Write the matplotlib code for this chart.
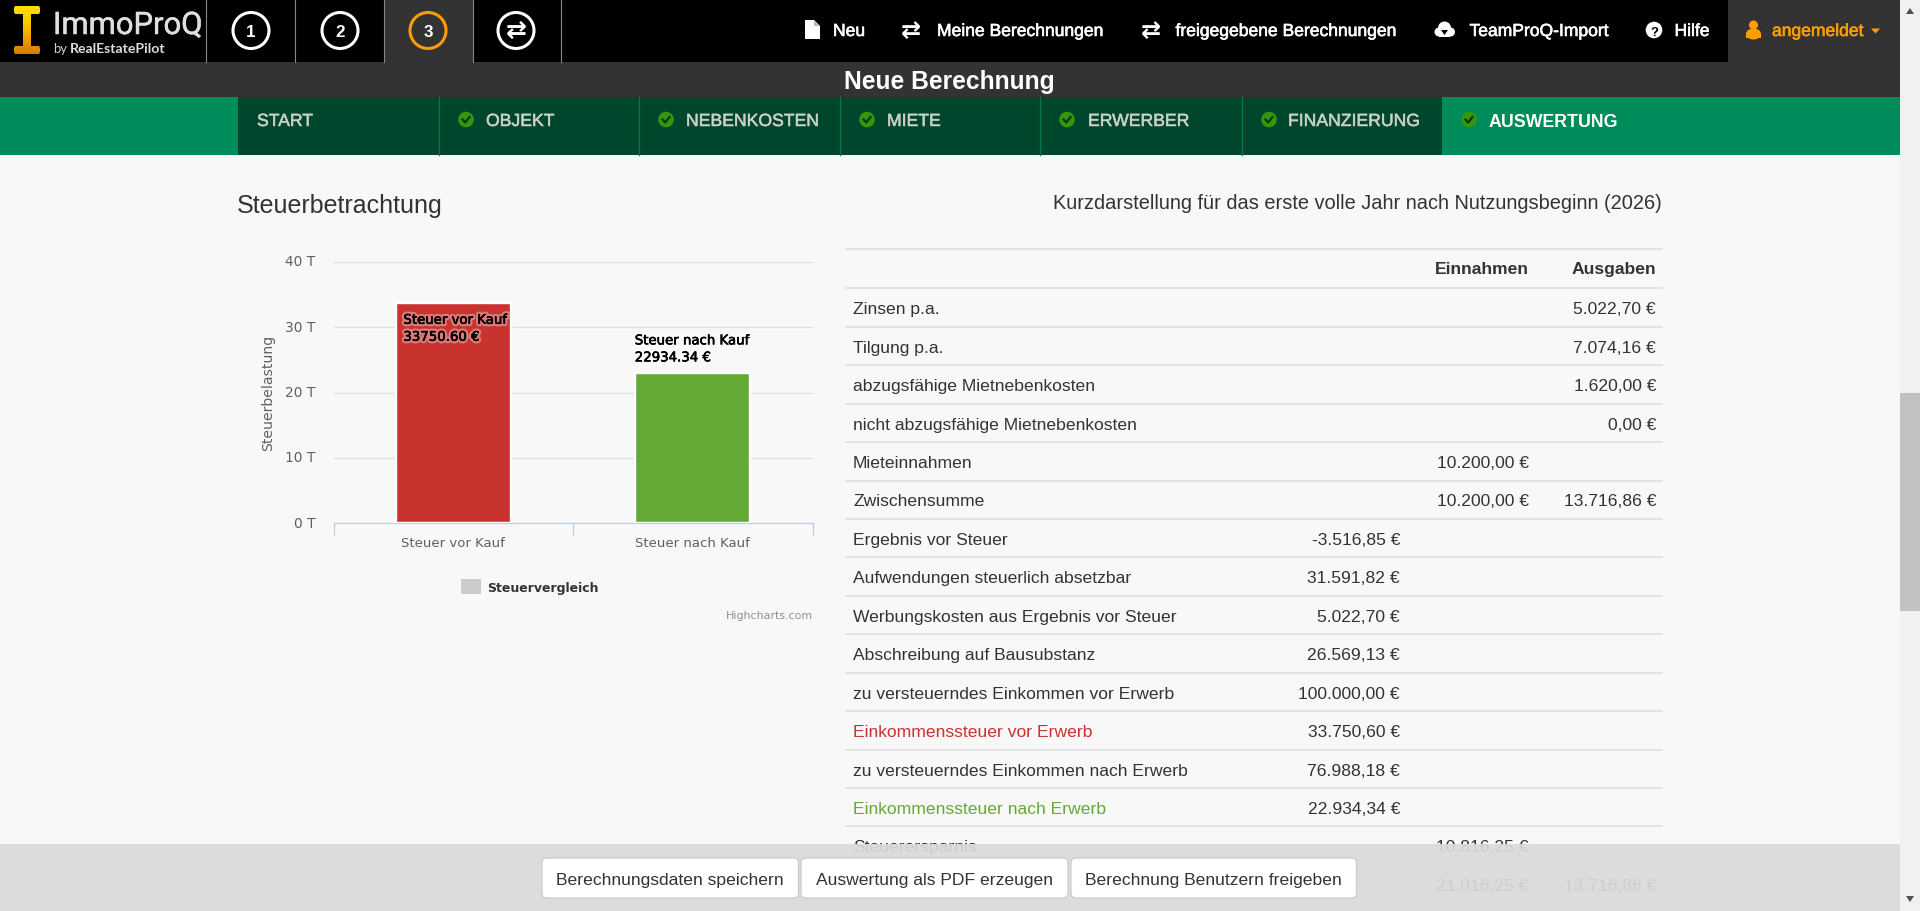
import matplotlib
matplotlib.use("Agg")
import matplotlib.pyplot as plt
import matplotlib.patheffects as pe
from matplotlib.patches import Rectangle, Circle, FancyBboxPatch, Polygon, Ellipse
from matplotlib.transforms import ScaledTranslation
import numpy as np
import logging

logging.getLogger("matplotlib.font_manager").setLevel(logging.ERROR)

# chart data
categories = ["Steuer vor Kauf", "Steuer nach Kauf"]
tax_values = [33750.60, 22934.34]
bar_colors = ["#c8322f", "#64a936"]
y_ticks = [0, 10000, 20000, 30000, 40000]
y_tick_labels = ["0 T", "10 T", "20 T", "30 T", "40 T"]

# table data
row_labels = ["Zinsen p.a.", "Tilgung p.a.", "abzugsfähige Mietnebenkosten",
              "nicht abzugsfähige Mietnebenkosten", "Mieteinnahmen", "Zwischensumme",
              "Ergebnis vor Steuer", "Aufwendungen steuerlich absetzbar",
              "Werbungskosten aus Ergebnis vor Steuer", "Abschreibung auf Bausubstanz",
              "zu versteuerndes Einkommen vor Erwerb", "Einkommenssteuer vor Erwerb",
              "zu versteuerndes Einkommen nach Erwerb", "Einkommenssteuer nach Erwerb",
              "Steuerersparnis", ""]
col_base = ["", "", "", "", "", "", "-3.516,85 €", "31.591,82 €", "5.022,70 €", "26.569,13 €",
            "100.000,00 €", "33.750,60 €", "76.988,18 €", "22.934,34 €", "", ""]
col_income = ["", "", "", "", "10.200,00 €", "10.200,00 €", "", "", "", "", "", "", "", "",
              "10.816,25 €", "21.016,25 €"]
col_expense = ["5.022,70 €", "7.074,16 €", "1.620,00 €", "0,00 €", "", "13.716,86 €", "", "", "",
               "", "", "", "", "", "", "13.716,86 €"]

# navigation
tabs = ["START", "OBJEKT", "NEBENKOSTEN", "MIETE", "ERWERBER", "FINANZIERUNG", "AUSWERTUNG"]
tab_text_x = [257, 486, 686, 887, 1088, 1288, 1489]
tab_check_x = [None, 466, 666, 867, 1067, 1269, 1469]
tab_lines = [438.5, 639, 840, 1040, 1241.5]
buttons = ["Berechnungsdaten speichern", "Auswertung als PDF erzeugen", "Berechnung Benutzern freigeben"]
button_x = [(542, 798.5), (801, 1068), (1071, 1356.5)]

FONT = "Liberation Sans"
px = 0.72

fig = plt.figure(figsize=(19.2, 9.12), dpi=100, facecolor="#f8f8f8")
bg = fig.add_axes([0, 0, 1, 1], zorder=0)
bg.set_xlim(0, 1920)
bg.set_ylim(912, 0)
bg.axis("off")


def txt(x, y, s, size, color="#333333", weight="normal", ha="left", family=FONT, z=3, heavy=0, **kw):
    t = bg.text(x, y, s, fontsize=size * px, color=color, fontweight=weight, ha=ha,
                va="baseline", family=family, zorder=z, **kw)
    if heavy:
        # the browser thickens these labels with a text shadow
        t.set_path_effects([pe.withStroke(linewidth=heavy * px, foreground=color)])
    return t


def rect(x0, y0, x1, y1, color, z=1, **kw):
    bg.add_patch(Rectangle((x0, y0), x1 - x0, y1 - y0, facecolor=color, edgecolor="none", zorder=z, **kw))


# header bars
rect(0, 0, 1900, 63, "#000000")
rect(384, 0, 473, 63, "#333333", z=2)
rect(1728, 0, 1900, 63, "#333333", z=2)
rect(0, 63, 1900, 98, "#333333")
rect(0, 98, 1900, 155.5, "#008c5a")
rect(238, 98, 1442, 155.5, "#00462d", z=2)
for x in [206, 295, 384, 473, 561]:
    bg.plot([x, x], [0, 63], color="#888888", lw=0.8, zorder=3)
for x in tab_lines:
    bg.plot([x, x], [98, 155.5], color="#007a4e", lw=0.9, zorder=3)

# logo
grad = np.linspace(0, 1, 64).reshape(-1, 1)
logo_cmap = matplotlib.colors.LinearSegmentedColormap.from_list("logo", ["#ffe000", "#ffc800", "#f0a000", "#d87c00"])
logo_im = bg.imshow(grad, extent=(14, 40, 55, 7), cmap=logo_cmap, aspect="auto", zorder=3)
logo_clip = Polygon([(15, 7), (39, 7), (40, 9), (40, 13), (39, 15), (31, 15), (31, 47), (39, 47), (40, 49),
                     (40, 53), (39, 55), (15, 55), (14, 53), (14, 49), (15, 47), (23, 47), (23, 15), (15, 15),
                     (14, 13), (14, 9)], transform=bg.transData, facecolor="none", edgecolor="none")
bg.add_patch(logo_clip)
logo_im.set_clip_path(logo_clip)
bg.set_xlim(0, 1920)
bg.set_ylim(912, 0)
txt(53, 35, "ImmoProQ", 31, color="#dfdfdf", family="Roboto", heavy=0.5)
txt(53, 53, "by", 13, color="#cccccc", family="Lato")
txt(70, 53, "RealEstatePilot", 14, color="#dddddd", weight="bold", family="Lato")

# step circles
for cx, s, col in [(251, "1", "white"), (340, "2", "white"), (428, "3", "#ff9d00"), (516, "⇄", "white")]:
    bg.add_patch(Circle((cx, 31.5), 18, facecolor="none", edgecolor=col, lw=2.2, zorder=3))
    if s == "⇄":
        bg.text(cx, 31, s, fontsize=25 * px, color="white", ha="center", va="center",
                family="DejaVu Sans", fontweight="bold", zorder=4)
    else:
        txt(cx, 37, s, 17, color="white", weight="bold", ha="center")

# top navigation
nav_items = [(833, "Neu"), (937, "Meine Berechnungen"), (1175.5, "freigegebene Berechnungen"),
             (1469.5, "TeamProQ-Import"), (1674.5, "Hilfe")]
for x, s in nav_items:
    txt(x, 37, s, 17.5, color="white", heavy=0.6)
txt(1772, 37, "angemeldet", 17.5, color="#ff9d00", heavy=0.6)
bg.add_patch(Polygon([(1871, 29.5), (1880, 29.5), (1875.5, 34.5)], facecolor="#ff9d00", zorder=3))

# nav icons
bg.add_patch(Polygon([(805, 21), (814, 21), (820, 27), (820, 40), (805, 40)], facecolor="white", zorder=3))
bg.add_patch(Polygon([(814, 21), (820, 27), (814, 27)], facecolor="#bbbbbb", zorder=4))
for x in [911, 1150.5]:
    bg.text(x, 31, "⇄", fontsize=24 * px, color="white", ha="center", va="center",
            family="DejaVu Sans", fontweight="bold", zorder=4)
for cx, cy, r in [(1444.5, 29, 6.5), (1439, 33, 4.5), (1450.5, 33, 4.5)]:
    bg.add_patch(Circle((cx, cy), r, facecolor="white", zorder=3))
rect(1439, 33, 1450, 37.5, "white", z=3)
bg.add_patch(Polygon([(1441, 31), (1448, 31), (1444.5, 36)], facecolor="#000000", zorder=4))
bg.add_patch(Circle((1654, 31), 8.3, facecolor="white", zorder=3))
txt(1654, 35.5, "?", 13, color="#000000", weight="bold", ha="center", z=4)
bg.add_patch(Circle((1753.5, 26), 4.5, facecolor="#ff9d00", zorder=3))
bg.add_patch(Ellipse((1753.5, 35), 15, 11, facecolor="#ff9d00", zorder=3))
rect(1746, 35, 1761, 39, "#ff9d00", z=3)

# page title
txt(949.5, 89, "Neue Berechnung", 24.6, color="white", weight="bold", ha="center")

# green tabs
for i, s in enumerate(tabs):
    if s == "AUSWERTUNG":
        txt(tab_text_x[i], 127, s, 17.7, color="white", weight="bold")
    else:
        txt(tab_text_x[i], 127, s, 17.6, color="#c9cfcb", heavy=0.5)
    if tab_check_x[i] is not None:
        cx = tab_check_x[i]
        bg.add_patch(Circle((cx, 120.5), 7.8, facecolor="#35980a", zorder=3))
        bg.plot([cx - 3.5, cx - 0.8, cx + 3.5], [120.5, 123.5, 118], color="#05371d", lw=1.6, zorder=4)

# headings
txt(237, 213, "Steuerbetrachtung", 25, color="#333333")
txt(1662, 209, "Kurzdarstellung für das erste volle Jahr nach Nutzungsbeginn (2026)", 20, ha="right")

# table
row_top = 289.3
row_h = 38.44
TS = 17.5
bg.plot([846, 1662], [250.3, 250.3], color="#dddddd", lw=1.1, zorder=1)
txt(1529, 274.5, "Einnahmen", TS, weight="bold", ha="right")
txt(1656, 274.5, "Ausgaben", TS, weight="bold", ha="right")
for i, label in enumerate(row_labels):
    top = row_top + i * row_h
    bg.plot([846, 1662], [top, top], color="#dddddd", lw=1.1, zorder=1)
    color = "#333333"
    if label == "Einkommenssteuer vor Erwerb":
        color = "#c8322f"
    elif label == "Einkommenssteuer nach Erwerb":
        color = "#64a936"
    base = top + 25
    txt(853, base, label, TS, color=color)
    txt(1400, base, col_base[i], TS, ha="right")
    txt(1529, base, col_income[i], TS, ha="right")
    txt(1656, base, col_expense[i], TS, ha="right")

# bottom bar laid over the table
rect(0, 845.5, 1900, 912, "#dadada", z=5, alpha=0.93)
for (x0, x1), s in zip(button_x, buttons):
    bg.add_patch(FancyBboxPatch((x0 + 3, 862), x1 - x0 - 6, 34, boxstyle="round,pad=3,rounding_size=5",
                                facecolor="white", edgecolor="#cccccc", lw=0.9, zorder=6))
    txt((x0 + x1) / 2, 885, s, TS, ha="center", z=7)

# scrollbar
rect(1900, 0, 1920, 912, "#f1f1f1", z=5)
rect(1900, 394, 1920, 612, "#c1c1c1", z=6)
bg.add_patch(Polygon([(1906, 15), (1914, 15), (1910, 9)], facecolor="#505050", zorder=6))
bg.add_patch(Polygon([(1906, 897), (1914, 897), (1910, 903)], facecolor="#505050", zorder=6))

# chart
L, R, T, B = 333.7, 812.5, 263, 524
ax = fig.add_axes([L / 1920, 1 - B / 912, (R - L) / 1920, (B - T) / 912], zorder=2)
ax.patch.set_alpha(0)
x_pos = np.arange(len(categories))
ax.bar(x_pos, tax_values, width=0.48, color=bar_colors, edgecolor="white", linewidth=2.4 * px, zorder=3)
ax.set_xlim(-0.5, 1.5)
ax.set_ylim(0, 40000)
ax.set_yticks(y_ticks)
ax.set_yticklabels(y_tick_labels)
ax.grid(axis="y", color="#e0e0e0", lw=1.3 * px, zorder=1)
ax.set_axisbelow(True)
ax.tick_params(axis="y", length=0, pad=13, labelsize=13.8 * px, labelcolor="#606060")
for lab in ax.get_yticklabels():
    lab.set_family("DejaVu Sans")
    lab.set_transform(lab.get_transform() + ScaledTranslation(0, 2 * px / 72, fig.dpi_scale_trans))
ax.set_xticks([-0.5, 0.5, 1.5])
ax.set_xticklabels([])
ax.set_xticks(x_pos, minor=True)
ax.set_xticklabels(categories, minor=True)
ax.tick_params(axis="x", which="major", length=12 * px, width=1.3 * px, color="#c0d0e0")
ax.tick_params(axis="x", which="minor", length=0, pad=9.2, labelsize=13.3 * px, labelcolor="#606060")
for s in ["top", "left", "right"]:
    ax.spines[s].set_visible(False)
ax.spines["bottom"].set_color("#c0d0e0")
ax.spines["bottom"].set_linewidth(1.3 * px)
ax.set_ylabel("Steuerbelastung", fontsize=14 * px, color="#606060")
ax.yaxis.set_label_coords((275 - L) / (R - L), (B - 393) / (B - T))

# data labels: inside on the first bar, above on the second
label_offsets = [(-50, -11), (-58, 9)]
for i, v in enumerate(tax_values):
    dx, dy = label_offsets[i]
    t = ax.annotate(f"{categories[i]}\n{v:.2f} €", (x_pos[i], v), xytext=(dx * px, dy * px),
                    textcoords="offset points", ha="left", va="top" if i == 0 else "bottom",
                    fontsize=13.3 * px, color="black", family="DejaVu Sans",
                    linespacing=1.4, zorder=5)
    t.set_path_effects([pe.withStroke(linewidth=5 * px, foreground="white", alpha=0.35),
                        pe.withStroke(linewidth=0.5 * px, foreground="black")])

# legend and credits
rect(461, 580, 481, 595, "#cccccc")
txt(487, 592, "Steuervergleich", 12.5, weight="bold", family="DejaVu Sans")
txt(813, 619, "Highcharts.com", 11, color="#909090", ha="right", family="DejaVu Sans")

fig.savefig("out.png", dpi=100, facecolor=fig.get_facecolor())
